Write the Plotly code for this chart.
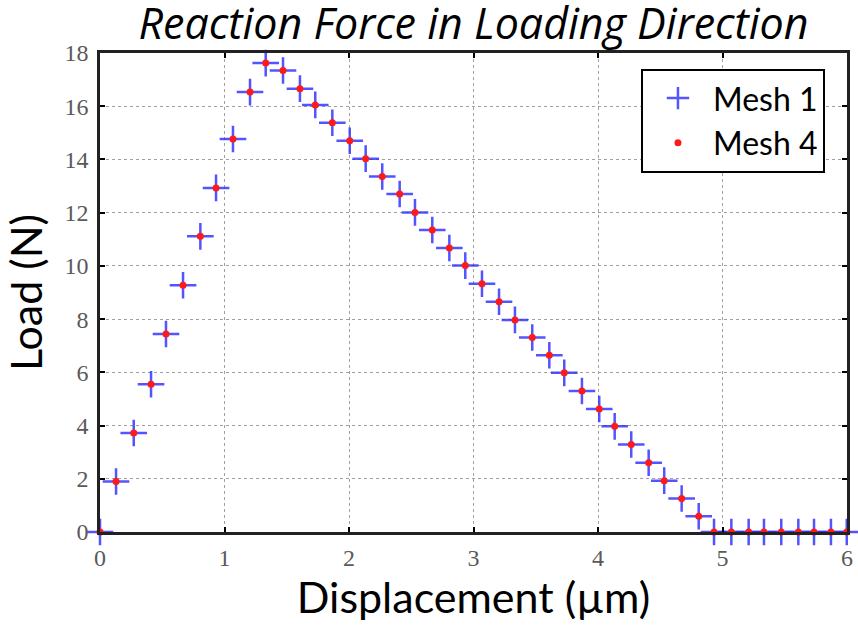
import plotly.graph_objects as go

# values
displacement = [0.0, 0.129, 0.271, 0.410, 0.530, 0.667, 0.806, 0.932, 1.068, 1.205,
                1.331, 1.470, 1.606, 1.729, 1.866, 2.006, 2.134, 2.267, 2.407, 2.530,
                2.669, 2.806, 2.934, 3.068, 3.205, 3.333, 3.472, 3.609, 3.729, 3.871,
                4.010, 4.134, 4.267, 4.407, 4.532, 4.672, 4.809, 4.932, 5.071, 5.210,
                5.333, 5.472, 5.609, 5.735, 5.871, 5.998]
mesh1_load = [0.0, 1.90, 3.72, 5.55, 7.44, 9.27, 11.11, 12.93, 14.77, 16.53,
              17.62, 17.34, 16.66, 16.05, 15.38, 14.70, 14.03, 13.36, 12.70, 12.01,
              11.35, 10.67, 10.01, 9.33, 8.65, 7.97, 7.31, 6.64, 5.98, 5.30,
              4.62, 3.97, 3.29, 2.60, 1.93, 1.26, 0.59, 0.0, 0.0, 0.0,
              0.0, 0.0, 0.0, 0.0, 0.0, 0.0]
mesh4_load = [0.0, 1.90, 3.72, 5.55, 7.44, 9.27, 11.11, 12.93, 14.77, 16.53,
              17.62, 17.34, 16.66, 16.05, 15.38, 14.70, 14.03, 13.36, 12.70, 12.01,
              11.35, 10.67, 10.01, 9.33, 8.65, 7.97, 7.31, 6.64, 5.98, 5.30,
              4.62, 3.97, 3.29, 2.60, 1.93, 1.26, 0.59, 0.0, 0.0, 0.0,
              0.0, 0.0, 0.0, 0.0, 0.0, 0.0]

W, H = 858, 625
L, R, T, B = 100, 11, 53, 93

fig = go.Figure()
fig.add_trace(go.Scatter(
    x=displacement, y=mesh1_load, mode='markers', name='Mesh 1', cliponaxis=False,
    marker=dict(symbol='cross-thin-open', size=19, color='rgba(40,40,255,0.8)',
                line=dict(width=2.5, color='rgba(40,40,255,0.8)'))))
fig.add_trace(go.Scatter(
    x=displacement, y=mesh4_load, mode='markers', name='Mesh 4', cliponaxis=False,
    marker=dict(symbol='circle', size=7, color='#ff1a1a')))

tickfont = dict(family='Liberation Serif', size=24, color='#5a5a5a')
axis_common = dict(showline=True, linecolor='#222222', linewidth=2.5, mirror='ticks',
                   ticks='inside', ticklen=5, tickcolor='black', tickwidth=1.5,
                   showgrid=True, gridcolor='#a0a0a0', griddash='dot', gridwidth=1,
                   zeroline=False, tickfont=tickfont)

fig.update_xaxes(range=[0, 6], dtick=1, tick0=0, ticklabelstandoff=2,
                 title=dict(text='Displacement (µm)', standoff=12,
                            font=dict(family='Lato', size=43, color='black')),
                 **axis_common)
fig.update_yaxes(range=[0, 18], dtick=2, tick0=0, ticklabelstandoff=4,
                 title=dict(text='Load (N)', standoff=19,
                            font=dict(family='Lato', size=43, color='black')),
                 **axis_common)

fig.update_layout(
    width=W, height=H,
    margin=dict(l=L, r=R, t=T, b=B, autoexpand=False),
    paper_bgcolor='white', plot_bgcolor='white',
    title=dict(text='<i>Reaction Force in Loading Direction</i>', xref='paper', x=0.5,
               xanchor='center', yref='container', y=1 - 24 / H, yanchor='middle',
               font=dict(family='Open Sans', size=43, color='black')),
    legend=dict(x=0.9705, y=0.967, xanchor='right', yanchor='top',
                bgcolor='white', bordercolor='black', borderwidth=2,
                font=dict(family='Lato', size=32, color='black'),
                itemwidth=60, tracegroupgap=0),
    showlegend=True,
)

# drop the default page margin so the figure sits at the window corner
fig.write_html("out.html", config={'displayModeBar': False},
               post_script="document.body.style.margin='0';")
